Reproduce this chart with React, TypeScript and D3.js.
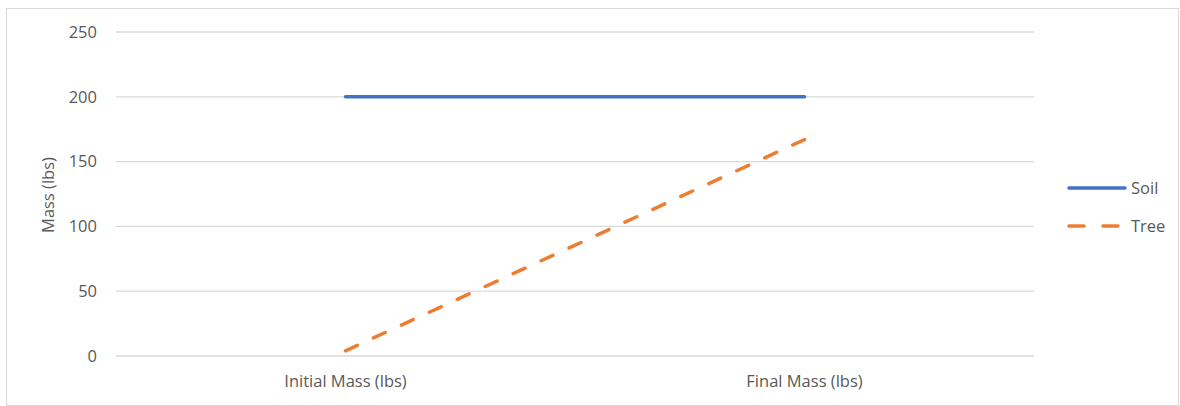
import React from "react";
import * as d3 from "d3";

const categories = ["Initial Mass (lbs)", "Final Mass (lbs)"];
const soilValues = [200, 200];
const treeValues = [4, 167];
const yTicks = [0, 50, 100, 150, 200, 250];
const seriesNames = ["Soil", "Tree"];

export default function App() {
  const W = 1180, H = 406;
  const left = 116, right = 1034, top = 32, bottom = 356;
  const x = d3.scaleBand<string>().domain(categories).range([left, right]);
  const y = d3.scaleLinear().domain([0, 250]).range([bottom, top]);
  const cx = (c: string) => (x(c) as number) + x.bandwidth() / 2;
  const line = d3.line<number>().x((_, i) => cx(categories[i])).y((v) => y(v));
  const font = "'Open Sans', 'Noto Sans', sans-serif";
  const txt = "#595959";
  const fs = 16.5;
  const soilColor = "#4472C4";
  const treeColor = "#ED7D31";
  const dx = cx(categories[1]) - cx(categories[0]);
  const dy = y(treeValues[0]) - y(treeValues[1]);
  const len = Math.sqrt(dx * dx + dy * dy);
  const dash = 13;
  const n = Math.round((len - dash) / 30);
  const gap = (len - dash) / n - dash;
  return (
    <svg width={W} height={H} style={{ position: "absolute", left: 0, top: 0, display: "block" }}>
      <rect x={0} y={0} width={W} height={H} fill="#fff" />
      <rect x={6.5} y={8.5} width={W - 8} height={H - 9} fill="none" stroke="#d9d9d9" strokeWidth={1} />
      {yTicks.map((t) => (
        <g key={t}>
          <line x1={left} x2={right} y1={y(t)} y2={y(t)} stroke="#d9d9d9" strokeWidth={1.3} />
          <text x={97} y={y(t)} dy="0.35em" textAnchor="end" fontFamily={font} fontSize={fs} fill={txt}>{t}</text>
        </g>
      ))}
      <text transform={`translate(48,${(top + bottom) / 2 + 1}) rotate(-90)`} textAnchor="middle" dy="0.35em" fontFamily={font} fontSize={fs} fill={txt}>Mass (lbs)</text>
      {categories.map((c) => (
        <text key={c} x={cx(c)} y={381} dy="0.35em" textAnchor="middle" fontFamily={font} fontSize={fs} fill={txt}>{c}</text>
      ))}
      <path d={line(soilValues) || ""} fill="none" stroke={soilColor} strokeWidth={3.5} strokeLinecap="round" />
      <path d={line(treeValues) || ""} fill="none" stroke={treeColor} strokeWidth={3.5} strokeLinecap="round" strokeDasharray={`${dash},${gap}`} />
      <g>
        <line x1={1069} x2={1125} y1={188} y2={188} stroke={soilColor} strokeWidth={3.5} strokeLinecap="round" />
        <text x={1131} y={188} dy="0.35em" fontFamily={font} fontSize={fs} fill={txt}>{seriesNames[0]}</text>
        <line x1={1069} x2={1122} y1={226} y2={226} stroke={treeColor} strokeWidth={3.5} strokeLinecap="round" strokeDasharray="15,19" />
        <text x={1131} y={226} dy="0.35em" fontFamily={font} fontSize={fs} fill={txt}>{seriesNames[1]}</text>
      </g>
    </svg>
  );
}
